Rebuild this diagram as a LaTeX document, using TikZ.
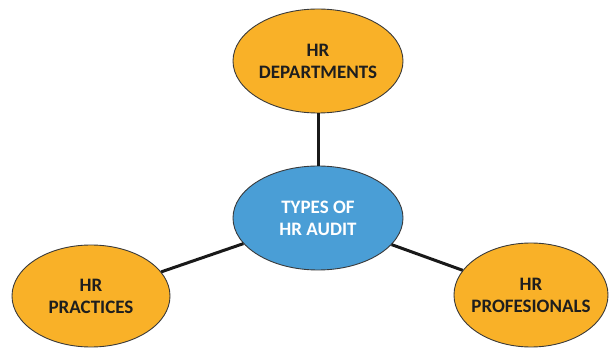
\documentclass[tikz,border=0pt]{standalone}
\usepackage{fontspec}
\setmainfont{Carlito}
\usetikzlibrary{shapes.geometric}
\definecolor{orfill}{HTML}{F9B128}
\definecolor{blfill}{HTML}{4A9ED6}
\definecolor{edge}{HTML}{3A3A3A}
\definecolor{txt}{HTML}{1E1E1E}
\tikzset{
  bubble/.style={ellipse, draw=edge, line width=0.9pt, inner xsep=-20pt, inner ysep=-12pt, align=center,
    font=\fontsize{19}{22}\selectfont\bfseries},
  orbubble/.style={bubble, fill=orfill, text=txt},
  blbubble/.style={bubble, fill=blfill, text=white},
  link/.style={line width=3pt, draw=black!90}
}
\begin{document}
\begin{tikzpicture}[x=1pt,y=1pt]
\useasboundingbox (0,0) rectangle (611,351);
\node[blbubble, minimum width=170pt, minimum height=104pt] (c) at (318,133) {TYPES OF\\HR AUDIT};
\node[orbubble, minimum width=170pt, minimum height=104pt] (t) at (318,290) {HR\\DEPARTMENTS};
\node[orbubble, minimum width=158pt, minimum height=102pt] (l) at (91,55) {HR\\PRACTICES};
\node[orbubble, minimum width=154pt, minimum height=104pt] (r) at (531,56) {HR\\PROFESIONALS};
\draw[link] (c) -- (t);
\draw[link] (c) -- (l);
\draw[link] (c) -- (r);
\end{tikzpicture}
\end{document}
